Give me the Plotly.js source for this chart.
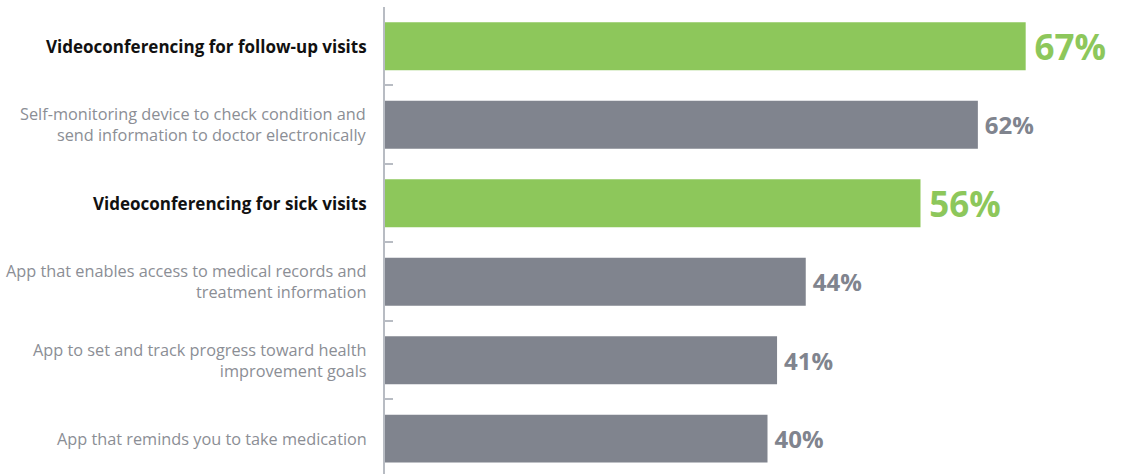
<!DOCTYPE html>
<html>
<head>
<meta charset="utf-8">
<script src="https://cdn.plot.ly/plotly-3.0.1.min.js"></script>
<style>html,body{margin:0;padding:0;background:#fff;}#chart{width:1128px;height:474px;}</style>
</head>
<body>
<div id="chart"></div>
<script>
var categories = [
  "Videoconferencing for follow-up visits",
  "Self-monitoring device to check condition and<br>send information to doctor electronically",
  "Videoconferencing for sick visits",
  "App that enables access to medical records and<br>treatment information",
  "App to set and track progress toward health<br>improvement goals",
  "App that reminds you to take medication"
];
var values = [67, 62, 56, 44, 41, 40];
var highlighted = [true, false, true, false, false, false];

var GREEN = "#8dc75b", GRAY = "#80848e";
var barColors = highlighted.map(function(h){ return h ? GREEN : GRAY; });
var textColors = highlighted.map(function(h){ return h ? GREEN : GRAY; });
var textSizes = highlighted.map(function(h){ return h ? 38 : 24; });

var trace = {
  type: "bar",
  orientation: "h",
  x: values,
  y: categories,
  marker: {color: barColors},
  text: values.map(function(v){ return "\u2009<b>" + v + "%</b>"; }),
  textposition: "outside",
  cliponaxis: false,
  textfont: {family: "Open Sans", size: textSizes, color: textColors},
  hoverinfo: "none"
};

var annotations = categories.map(function(c, i){
  return {
    xref: "paper", yref: "y", x: 0, y: c,
    xanchor: "right", yanchor: "middle", xshift: -16,
    align: "right", showarrow: false,
    text: highlighted[i] ? "<b>" + c + "</b>" : c,
    font: highlighted[i] ? {family: "Open Sans", size: 17, color: "#111111"}
                         : {family: "Open Sans", size: 16.3, color: "#8b8e95"}
  };
});

var layout = {
  width: 1128, height: 474,
  margin: {l: 385, r: 0, t: 7, b: 0},
  paper_bgcolor: "#ffffff", plot_bgcolor: "#ffffff",
  showlegend: false,
  bargap: 0.39,
  xaxis: {range: [0, 77.7], visible: false, fixedrange: true},
  yaxis: {
    type: "category",
    range: [5.45, -0.5],
    showline: true, linecolor: "#b8bcc3", linewidth: 2,
    ticks: "inside", tickson: "boundaries", ticklen: 8, tickwidth: 2, tickcolor: "#b8bcc3",
    showticklabels: false, showgrid: false, zeroline: false
  },
  annotations: annotations,
  font: {family: "Open Sans"}
};

Plotly.newPlot("chart", [trace], layout, {displayModeBar: false, staticPlot: true});
</script>
</body>
</html>
